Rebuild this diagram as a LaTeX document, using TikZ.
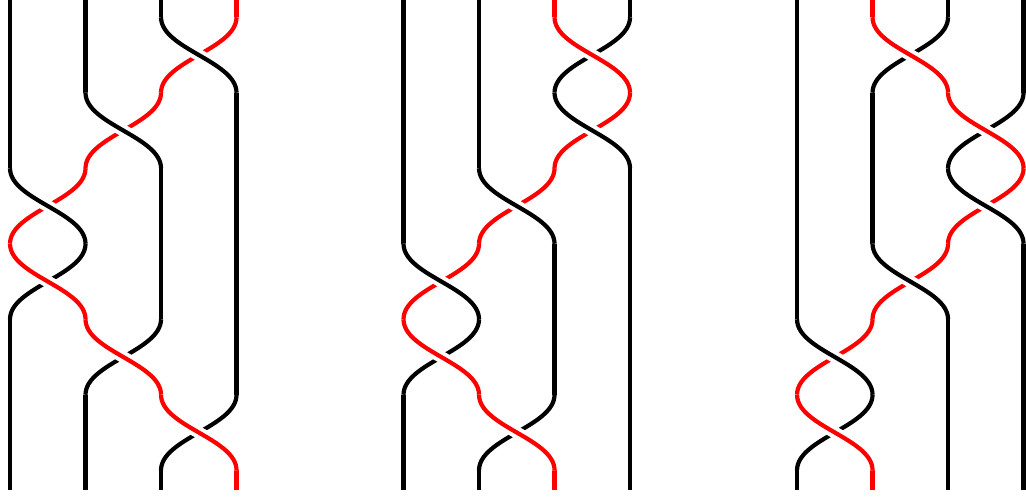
\documentclass[tikz,border=0pt]{standalone}
\begin{document}
\begin{tikzpicture}[
    x=7.55mm,
    y=-7.55mm,
    zopf strang/.style={
        line width=0.42mm
    },
    zopf oben/.style={
        zopf strang,
        preaction={draw=white, line width=1.2mm}
    }
]
    \useasboundingbox (0,0) rectangle (13.589,6.623);

    % Drei Zoepfe mit je vier Straengen; der rote Strang wandert
    \foreach \d/\rot/\liste in {%
        0/4/{3/black/red,2/black/red,1/black/red,1/red/black,2/red/black,3/red/black},%
        1/3/{3/red/black,3/black/red,2/black/red,1/black/red,1/red/black,2/red/black},%
        2/2/{2/red/black,3/red/black,3/black/red,2/black/red,1/black/red,1/red/black}%
    } {
        \begin{scope}[shift={({5.212*\d-0.8675},0.2285)}]
            % Anfangs- und Endstuecke
            \foreach \p in {1,...,4} {
                \ifnum\p=\rot\relax \def\farbe{red}\else \def\farbe{black}\fi
                \draw[zopf strang, color=\farbe] (\p,-0.2285) -- (\p,0);
                \draw[zopf strang, color=\farbe] (\p,6) -- (\p,6.2615);
            }
            % Kreuzungen: der Strang nach rechts unten liegt oben
            \foreach \i/\oben/\unten [count=\k from 0] in \liste {
                \pgfmathtruncatemacro\j{\i+1}
                \draw[zopf strang, color=\unten] (\j,\k)
                    .. controls +(0,0.42) and +(0,-0.42) .. (\i,\k+1);
                \draw[zopf oben, color=\oben] (\i,\k)
                    .. controls +(0,0.42) and +(0,-0.42) .. (\j,\k+1);
                \foreach \p in {1,...,4} {
                    \pgfmathtruncatemacro\frei{or(\p<\i,\p>\j)}
                    \ifnum\frei=1
                        \draw[zopf strang] (\p,\k) -- (\p,\k+1);
                    \fi
                }
            }
        \end{scope}
    }
\end{tikzpicture}
\end{document}
